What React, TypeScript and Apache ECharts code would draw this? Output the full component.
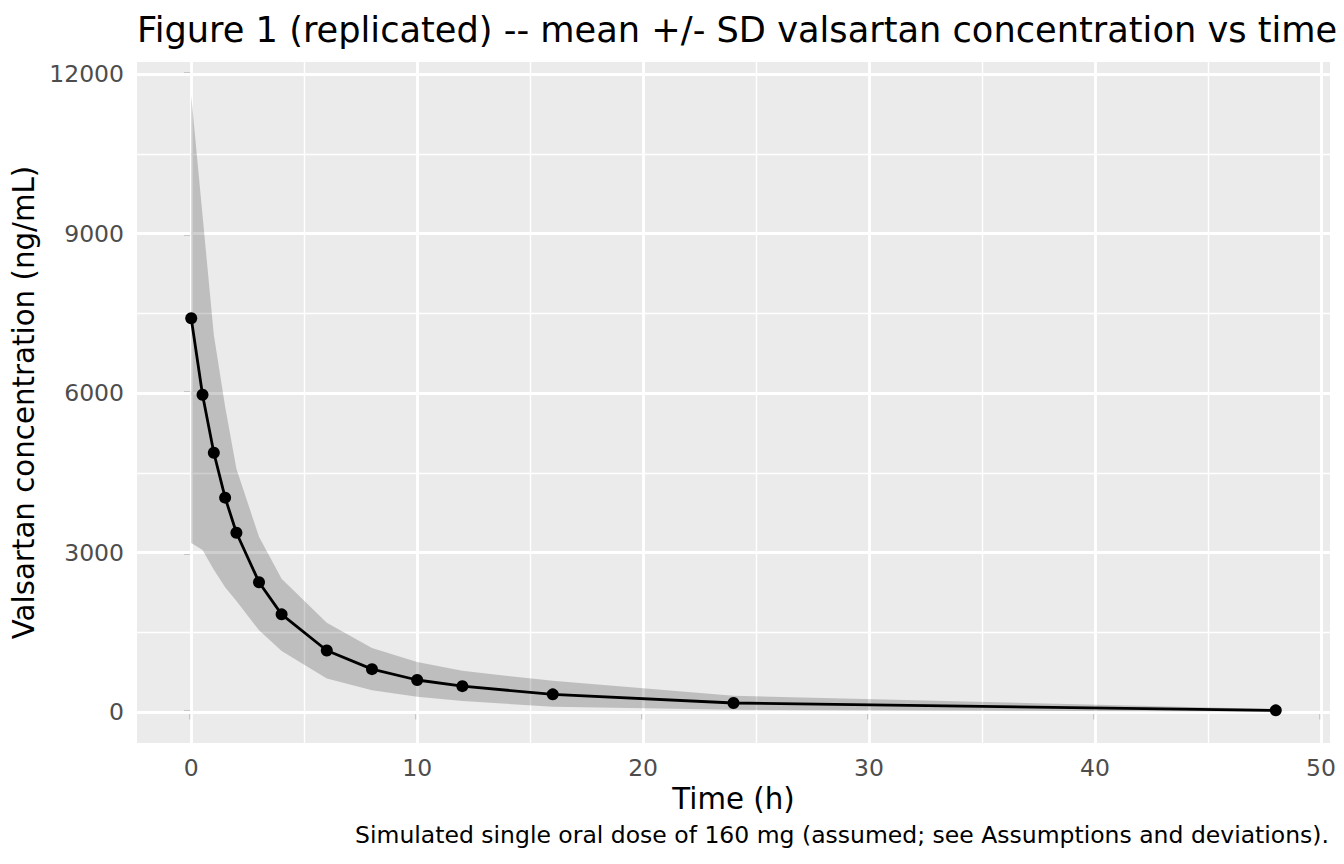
import React, { useEffect, useRef } from "react";
import * as echarts from "echarts";

const TIME = [0, 0.5, 1, 1.5, 2, 3, 4, 6, 8, 10, 12, 16, 24, 48];
const MEAN = [7410, 5970, 4880, 4035, 3375, 2445, 1840, 1160, 809, 605, 489, 335, 172, 34];
const UPPER = [11600, 9350, 7100, 5750, 4580, 3300, 2510, 1680, 1205, 946, 777, 589, 307, 60];
const LOWER = [3180, 3050, 2680, 2350, 2090, 1540, 1150, 635, 412, 289, 212, 100, 45, 8];

const X_TICKS = [0, 10, 20, 30, 40, 50];
const X_MINOR = [5, 15, 25, 35, 45];
const Y_TICKS = [0, 3000, 6000, 9000, 12000];
const Y_MINOR = [1500, 4500, 7500, 10500];

const TITLE = "Figure 1 (replicated) -- mean +/- SD valsartan concentration vs time";
const X_TITLE = "Time (h)";
const Y_TITLE = "Valsartan concentration (ng/mL)";
const CAPTION = "Simulated single oral dose of 160 mg (assumed; see Assumptions and deviations).";

const FONT = "DejaVu Sans";

export default function App() {
  const ref = useRef<HTMLDivElement>(null);
  useEffect(() => {
    if (!ref.current) return;
    const chart = echarts.init(ref.current, null, { renderer: "svg" });
    const bandData = TIME.map((t, i) => [t, LOWER[i], UPPER[i]]);
    const meanData = TIME.map((t, i) => [t, MEAN[i]]);
    const gridLines = [
      ...X_MINOR.map((v) => ({ xAxis: v, lineStyle: { width: 1.42 } })),
      ...Y_MINOR.map((v) => ({ yAxis: v, lineStyle: { width: 1.42 } })),
      ...X_TICKS.map((v) => ({ xAxis: v, lineStyle: { width: 2.84 } })),
      ...Y_TICKS.map((v) => ({ yAxis: v, lineStyle: { width: 2.84 } })),
    ];
    chart.setOption({
      animation: false,
      backgroundColor: "#ffffff",
      textStyle: { fontFamily: FONT },
      title: [
        {
          text: TITLE,
          left: 137,
          top: 12,
          padding: 0,
          textStyle: { fontFamily: FONT, fontSize: 35.2, fontWeight: "normal", color: "#000" },
        },
        {
          text: CAPTION,
          right: 15,
          top: 823,
          padding: 0,
          textStyle: { fontFamily: FONT, fontSize: 23.5, fontWeight: "normal", color: "#000" },
        },
      ],
      grid: {
        left: 137,
        right: 14,
        top: 62,
        bottom: 121,
        show: true,
        backgroundColor: "#EBEBEB",
        borderWidth: 0,
        outerBoundsMode: "none",
      },
      xAxis: {
        type: "value",
        min: -2.4,
        max: 50.4,
        name: X_TITLE,
        nameLocation: "middle",
        nameGap: 39,
        nameTextStyle: { fontFamily: FONT, fontSize: 29.3, color: "#000" },
        axisLine: { show: false },
        axisTick: { show: true, length: 7.3, customValues: X_TICKS, lineStyle: { color: "#333333", width: 2.4 } },
        axisLabel: {
          customValues: X_TICKS,
          margin: 13,
          color: "#4D4D4D",
          fontSize: 23.5,
          fontFamily: FONT,
          formatter: (v: number) => String(v),
        },
        splitLine: { show: false },
      },
      yAxis: {
        type: "value",
        min: -580,
        max: 12230,
        name: Y_TITLE,
        nameLocation: "middle",
        nameGap: 85,
        nameTextStyle: { fontFamily: FONT, fontSize: 29.3, color: "#000" },
        axisLine: { show: false },
        axisTick: { show: true, length: 7.3, customValues: Y_TICKS, lineStyle: { color: "#333333", width: 2.4 } },
        axisLabel: {
          customValues: Y_TICKS,
          margin: 13,
          color: "#4D4D4D",
          fontSize: 23.5,
          fontFamily: FONT,
          formatter: (v: number) => String(v),
        },
        splitLine: { show: false },
      },
      series: [
        {
          type: "line",
          data: [],
          z: 1,
          silent: true,
          markLine: {
            z: 1,
            silent: true,
            symbol: ["none", "none"],
            label: { show: false },
            lineStyle: { color: "#ffffff", type: "solid" },
            emphasis: { disabled: true },
            data: gridLines,
          },
        },
        {
          name: "sd",
          type: "custom",
          data: bandData,
          encode: { x: 0, y: [1, 2] },
          z: 2,
          silent: true,
          clip: true,
          renderItem: (params: any, api: any) => {
            if (params.dataIndex !== 0) return null;
            const pts: number[][] = [];
            for (let i = 0; i < TIME.length; i++) pts.push(api.coord([TIME[i], UPPER[i]]));
            for (let i = TIME.length - 1; i >= 0; i--) pts.push(api.coord([TIME[i], LOWER[i]]));
            return {
              type: "polygon",
              shape: { points: pts },
              style: { fill: "rgba(0,0,0,0.19)", stroke: "none" },
            };
          },
        },
        {
          name: "mean",
          type: "line",
          data: meanData,
          symbol: "circle",
          symbolSize: 12,
          z: 3,
          silent: true,
          itemStyle: { color: "#000000" },
          lineStyle: { color: "#000000", width: 2.8 },
        },
      ],
    });
    return () => chart.dispose();
  }, []);
  return (
    <div
      ref={ref}
      style={{ position: "fixed", left: 0, top: 0, width: 1344, height: 864 }}
    />
  );
}
